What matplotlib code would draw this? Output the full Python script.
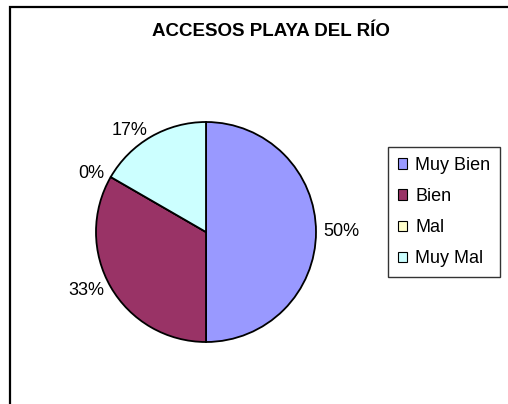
import matplotlib.pyplot as plt
from matplotlib.patches import Rectangle, Patch

plt.rcParams['font.family'] = ['Liberation Sans', 'DejaVu Sans']

# Données
categories = ["Muy Bien", "Bien", "Mal", "Muy Mal"]
valores = [3, 2, 0, 1]
colores = ["#9999FF", "#993366", "#FFFFCC", "#CCFFFF"]
titulo = "ACCESOS PLAYA DEL RÍO"

total = sum(valores)
etiquetas = [f"{v / total * 100:.0f}%" for v in valores]

W, H = 508, 404
fig = plt.figure(figsize=(W / 100, H / 100), dpi=100)

# cadre du graphique (déborde à droite et en bas)
fig.patches.append(Rectangle((10 / W, -0.1), 1.2, 1 - 7 / H + 0.1,
                             transform=fig.transFigure, fill=False,
                             edgecolor="black", linewidth=1.6))

# camembert centré vers (206, 232) px, rayon ~110 px
cx, cy, r = 206, 232, 110
ax = fig.add_axes([(cx - r) / W, (H - cy - r) / H, 2 * r / W, 2 * r / H])
wedges, texts = ax.pie(valores, labels=etiquetas, colors=colores,
                       startangle=90, counterclock=False, labeldistance=1.07,
                       wedgeprops=dict(edgecolor="black", linewidth=1.3),
                       textprops=dict(fontsize=13, color="black"))
ax.set_xlim(-1, 1)
ax.set_ylim(-1, 1)
ax.set_aspect("auto")

fig.text(271 / W, 1 - 31 / H, titulo, ha="center", va="center",
         fontsize=13.5, fontweight="bold")

handles = [Patch(facecolor=c, edgecolor="black", linewidth=0.8) for c in colores]
leg = fig.legend(handles, categories, loc="upper left",
                 bbox_to_anchor=(388 / W, 1 - 147 / H), bbox_transform=fig.transFigure,
                 borderaxespad=0, fontsize=13, handlelength=0.5, handleheight=0.5,
                 handletextpad=0.45, labelspacing=0.78, borderpad=0.55,
                 frameon=True, fancybox=False, shadow=False)
leg.get_frame().set_edgecolor("black")
leg.get_frame().set_linewidth(1.0)

fig.savefig("out.png", dpi=100)
